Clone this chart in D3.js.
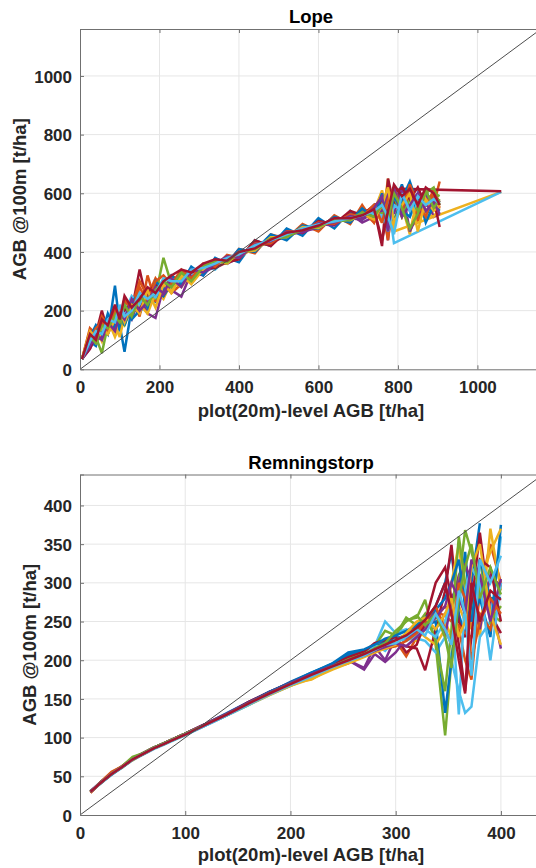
<!DOCTYPE html>
<html><head><meta charset="utf-8">
<script src="https://cdn.jsdelivr.net/npm/d3@7"></script>
<style>html,body{margin:0;padding:0;background:#fff;}svg{display:block;}</style>
</head><body>
<svg id="chart" width="536" height="868"></svg>
<script>
// ---------- DATA ----------
const colors = ['#0072BD','#D95319','#EDB120','#7E2F8E','#77AC30','#4DBEEE','#A2142F'];

// Lope panel
const lopeTitle = 'Lope';
const lopeXTicks = [0,200,400,600,800,1000];
const lopeYTicks = [0,200,400,600,800,1000];
const lopeX = [5,25,40,55,70,88,100,112,130,150,170,190,210,230,255,280,310,340,370,400,440,480,520,560,600,640,680,710,740,760,775,790,810,830,850,870,890,905,1060];
const lopeS0  = [35,95,80,150,120,285,150,60,210,190,245,230,280,265,320,300,345,350,380,365,440,420,480,455,515,480,540,510,560,520,600,560,630,540,600,520,580,560,null];
const lopeS1  = [35,130,110,100,150,130,200,160,240,180,320,230,300,260,290,345,330,370,360,410,395,460,445,495,470,525,495,560,500,560,470,580,520,600,500,600,560,640,null];
const lopeS2  = [35,120,140,95,170,110,150,190,180,230,200,270,240,300,280,330,345,345,385,380,420,430,462,468,495,500,512,520,545,500,650,470,null,null,null,null,null,null,605];
const lopeS3  = [35,70,110,140,120,180,150,200,170,250,190,175,280,270,248,330,320,365,360,380,430,425,470,465,495,490,530,500,520,590,440,620,560,610,540,590,520,530,null];
const lopeS4  = [35,90,110,55,150,140,190,170,220,200,250,240,270,300,310,315,350,345,375,395,412,438,462,470,492,505,520,515,540,530,560,510,580,470,540,560,600,590,null];
const lopeS5  = [35,110,130,150,160,200,175,230,190,240,260,250,300,280,320,310,350,340,380,390,425,440,460,480,488,508,518,522,550,520,580,430,null,null,null,null,null,null,605];
const lopeS6  = [35,70,120,200,130,180,150,210,200,340,220,270,250,300,290,335,330,360,365,392,418,435,452,478,492,500,525,535,550,420,650,560,615,null,null,null,null,null,607];
const lopeS7  = [35,100,90,160,140,200,130,210,170,200,260,280,250,290,330,310,340,365,370,400,405,460,440,490,480,515,500,545,520,570,610,500,580,640,560,610,550,575,null];
const lopeS8  = [35,140,120,180,150,200,160,230,210,300,250,310,270,320,300,340,335,375,360,390,415,438,463,472,490,502,512,540,500,560,440,610,530,590,520,560,610,550,null];
const lopeS9  = [35,120,90,130,170,150,110,180,200,220,190,260,280,270,310,300,345,360,368,388,410,442,458,476,488,506,515,520,540,610,520,490,560,460,600,530,520,550,null];
const lopeS10 = [35,85,100,110,150,140,180,160,200,210,240,250,255,290,300,320,330,350,378,388,415,445,455,470,482,508,515,510,535,540,600,530,620,470,530,560,545,null,null];
const lopeS11 = [35,100,130,140,120,190,170,150,210,230,250,250,380,290,300,330,340,360,372,392,420,438,462,472,495,505,508,532,525,530,545,590,520,580,540,600,620,560,null];
const lopeS12 = [35,105,120,130,155,170,200,190,250,220,260,245,290,295,330,325,340,350,380,395,418,448,462,478,500,500,520,528,530,525,470,560,540,520,580,570,560,575,null];
const lopeS13 = [35,90,110,150,170,150,190,200,230,200,260,290,270,300,290,330,345,345,365,375,440,420,470,465,505,495,540,525,560,570,530,600,620,580,620,560,580,485,null];
const lopeS14 = [35,110,150,120,190,140,210,150,230,260,210,300,270,320,290,350,320,380,360,410,400,455,448,488,480,520,505,548,515,600,480,590,540,520,600,500,560,540,null];
const lopeS15 = [35,100,140,160,130,210,180,240,200,280,230,300,320,290,340,310,360,350,390,380,428,430,470,470,500,496,528,520,560,500,580,620,540,630,560,520,600,570,null];
const lopeS16 = [35,130,110,140,120,170,200,160,220,190,270,210,290,260,320,290,340,370,360,400,405,450,450,485,482,512,508,530,510,560,620,500,560,600,470,580,540,560,null];
const lopeS17 = [35,80,120,100,160,130,190,170,240,200,230,280,260,310,280,340,330,360,385,380,425,436,468,466,498,500,522,515,550,590,470,620,520,560,600,540,570,530,null];
const lopeS18 = [35,110,90,150,140,180,160,220,180,250,220,270,300,280,330,300,350,370,365,398,410,446,452,476,486,510,510,535,520,560,510,600,550,480,530,610,550,580,null];
const lopeS19 = [35,95,130,120,170,160,220,180,200,260,240,260,310,300,300,340,345,360,380,392,422,440,460,480,494,504,516,524,540,560,520,460,600,540,590,560,580,565,null];
const lopeS20 = [35,120,100,170,150,220,170,250,210,240,280,260,300,320,340,330,360,375,370,400,412,442,465,474,490,515,515,525,545,440,540,630,590,615,560,620,600,560,null];
const lopeSeries = [lopeS0,lopeS1,lopeS2,lopeS3,lopeS4,lopeS5,lopeS6,lopeS7,lopeS8,lopeS9,lopeS10,lopeS11,lopeS12,lopeS13,lopeS14,lopeS15,lopeS16,lopeS17,lopeS18,lopeS19,lopeS20];

// Remningstorp panel
const remTitle = 'Remningstorp';
const remXTicks = [0,100,200,300,400];
const remYTicks = [0,50,100,150,200,250,300,350,400];
const remX = [10,20,30,40,50,60,70,80,90,100,120,140,160,180,200,220,240,255,270,280,290,300,310,320,328,338,347,353,360,366,372,380,390,400];
const remS0  = [30,42,52,62,71,79,86,92,98,104,118,132,146,158,172,184,195,208,212,218,222,228,232,240,250,270,300,340,260,230,300,377,null,null];
const remS1  = [29,43,56,63,73,80,87,92,98,104,116,129,143,156,168,178,190,196,206,212,222,225,205,230,245,255,270,258,240,200,175,290,350,300];
const remS2  = [30,42,54,61,72,79,86,92,99,105,117,130,144,157,170,175,190,198,207,213,218,222,230,225,240,260,250,230,270,250,300,230,370,290];
const remS3  = [31,43,54,63,72,80,87,93,99,105,118,131,146,159,171,182,193,200,190,218,200,230,226,238,250,240,260,270,310,325,290,250,280,215];
const remS4  = [30,42,53,63,75,80,86,92,98,104,117,130,144,158,169,181,191,199,206,214,226,230,252,255,278,220,103,200,300,368,340,300,260,250];
const remS5  = [30,41,52,61,71,78,85,91,97,103,116,129,142,155,167,178,192,202,210,218,250,235,240,228,225,210,230,200,160,132,140,230,250,360];
const remS6  = [30,42,53,62,72,79,86,93,99,105,118,131,145,158,170,181,193,204,210,215,220,223,218,215,187,240,290,349,250,230,270,365,260,235];
const remS7  = [30,43,53,62,72,80,87,93,99,105,117,130,145,159,170,183,196,206,212,216,224,228,232,236,245,250,132,200,270,340,250,280,230,375];
const remS8  = [29,42,54,62,72,79,86,92,98,104,117,130,143,157,169,181,190,202,208,214,219,226,230,245,255,262,258,250,245,235,230,260,240,300];
const remS9  = [30,42,53,62,71,79,86,92,98,104,117,129,142,155,167,179,191,199,210,216,220,224,235,240,230,220,240,300,350,280,240,300,340,370];
const remS10 = [30,42,53,62,72,79,86,92,99,105,118,131,145,158,170,182,193,200,188,208,198,210,228,236,245,265,230,280,300,325,300,240,310,295];
const remS11 = [30,42,54,63,74,80,87,93,99,105,117,130,144,157,170,181,193,203,210,218,238,232,255,245,260,225,160,240,360,300,250,330,250,270];
const remS12 = [30,42,53,62,72,79,86,92,98,104,116,129,142,156,168,180,190,200,205,220,212,228,225,232,240,230,250,280,130,290,320,300,200,300];
const remS13 = [30,42,53,62,72,79,86,93,99,105,118,130,146,159,171,183,194,204,211,222,226,230,210,220,250,300,320,280,220,160,230,330,320,250];
const remS14 = [30,42,53,62,72,79,86,92,98,104,117,131,145,159,171,184,196,210,214,220,228,232,238,245,255,265,280,300,330,270,250,330,280,280];
const remS15 = [29,43,55,63,72,80,87,93,99,104,117,130,144,157,169,181,192,200,205,212,215,218,225,235,250,270,240,220,300,280,200,250,280,260];
const remS16 = [30,42,53,62,72,79,86,92,98,104,117,130,143,156,167,176,188,196,204,210,215,220,235,250,255,240,260,280,230,250,320,350,260,220];
const remS17 = [30,42,53,62,72,80,87,93,99,105,118,131,145,158,170,182,193,200,206,212,217,222,218,230,240,255,270,300,280,260,330,310,250,305];
const remS18 = [30,42,53,62,73,80,87,93,99,105,117,130,144,157,169,180,192,201,208,215,222,238,250,258,245,260,230,190,280,320,350,280,320,285];
const remS19 = [30,42,53,62,72,79,86,92,98,104,116,129,143,156,168,179,191,199,206,213,220,222,230,240,232,260,240,220,290,260,180,330,300,335];
const remS20 = [30,42,53,62,72,79,86,92,98,104,117,130,144,157,169,181,192,200,208,214,220,226,232,242,252,270,300,260,200,157,300,250,290,278];
const remSeries = [remS0,remS1,remS2,remS3,remS4,remS5,remS6,remS7,remS8,remS9,remS10,remS11,remS12,remS13,remS14,remS15,remS16,remS17,remS18,remS19,remS20];

const xLabel = 'plot(20m)-level AGB [t/ha]';
const yLabel = 'AGB @100m [t/ha]';

// ---------- DRAW ----------
const svg = d3.select('#chart');
const FONT = '"Liberation Sans", Arial, Helvetica, sans-serif';

function panel(o) {
  const g = svg.append('g');
  const x = d3.scaleLinear().domain([0, o.lim]).range([o.left, o.left + o.w]);
  const y = d3.scaleLinear().domain([0, o.lim]).range([o.top + o.h, o.top]);
  const clipId = 'clip' + o.id;
  svg.append('clipPath').attr('id', clipId).append('rect')
    .attr('x', o.left).attr('y', o.top).attr('width', o.w).attr('height', o.h);

  // grid
  g.append('g').selectAll('line').data(o.xTicks.filter(d => d > 0)).join('line')
    .attr('x1', d => x(d)).attr('x2', d => x(d)).attr('y1', o.top).attr('y2', o.top + o.h)
    .attr('stroke', '#e6e6e6').attr('stroke-width', 1);
  g.append('g').selectAll('line').data(o.yTicks.filter(d => d > 0)).join('line')
    .attr('x1', o.left).attr('x2', o.left + o.w).attr('y1', d => y(d)).attr('y2', d => y(d))
    .attr('stroke', '#e6e6e6').attr('stroke-width', 1);

  // series
  const lg = g.append('g').attr('clip-path', `url(#${clipId})`);
  const line = d3.line().x(d => x(d[0])).y(d => y(d[1]));
  o.series.forEach((s, i) => {
    const pts = o.xs.map((xv, k) => [xv, s[k]]).filter(p => p[1] !== null);
    lg.append('path').attr('d', line(pts)).attr('fill', 'none')
      .attr('stroke', colors[i % colors.length]).attr('stroke-width', 2.5)
      .attr('stroke-linejoin', 'miter').attr('stroke-miterlimit', 3);
  });
  // 1:1 line
  lg.append('line').attr('x1', x(0)).attr('y1', y(0)).attr('x2', x(o.lim)).attr('y2', y(o.lim))
    .attr('stroke', '#4d4d4d').attr('stroke-width', 1);

  // axes
  const axc = '#707070';
  const ax = d3.axisBottom(x).tickValues(o.xTicks).tickSize(-4).tickPadding(11).tickFormat(d3.format('d'));
  const ay = d3.axisLeft(y).tickValues(o.yTicks).tickSize(-4).tickPadding(8).tickFormat(d3.format('d'));
  const gxa = g.append('g').attr('transform', `translate(0,${o.top + o.h})`).call(ax);
  const gya = g.append('g').attr('transform', `translate(${o.left},0)`).call(ay);
  const gxt = g.append('g').attr('transform', `translate(0,${o.top})`)
    .call(d3.axisTop(x).tickValues(o.xTicks).tickSize(-4).tickFormat(''));
  [gxa, gya, gxt].forEach(a => {
    a.select('.domain').attr('stroke', axc).attr('stroke-width', 1);
    a.selectAll('.tick line').attr('stroke', axc);
    a.selectAll('.tick text').attr('fill', '#262626').attr('font-family', FONT)
      .attr('font-size', 17).attr('font-weight', 'bold');
  });
  gxa.selectAll('.tick text').attr('dy', null).attr('y', 24).attr('dominant-baseline', 'auto');
  gya.selectAll('.tick text').attr('dy', '0.36em');
  gxa.selectAll('.tick').filter(d => d === 0).select('line').remove();
  gya.selectAll('.tick').filter(d => d === 0).select('line').remove();

  // title & labels
  g.append('text').attr('x', o.cx).attr('y', o.titleY).attr('text-anchor', 'middle')
    .attr('font-family', FONT).attr('font-size', 18.5).attr('font-weight', 'bold').attr('fill', '#000')
    .text(o.title);
  g.append('text').attr('x', o.cx).attr('y', o.xLabelY).attr('text-anchor', 'middle')
    .attr('font-family', FONT).attr('font-size', 18.5).attr('font-weight', 'bold').attr('fill', '#262626')
    .text(xLabel);
  g.append('text').attr('transform', `translate(${o.yLabelX},${o.top + o.h / 2}) rotate(-90)`)
    .attr('text-anchor', 'middle')
    .attr('font-family', FONT).attr('font-size', 18.5).attr('font-weight', 'bold').attr('fill', '#262626')
    .text(yLabel);
}

panel({id: 'a', left: 80, top: 29, w: 461, h: 340.3, lim: 1160, xs: lopeX, series: lopeSeries,
  xTicks: lopeXTicks, yTicks: lopeYTicks, title: lopeTitle, cx: 311, titleY: 23, xLabelY: 417, yLabelX: 26});
panel({id: 'b', left: 80, top: 474.5, w: 463, h: 340.5, lim: 440, xs: remX, series: remSeries,
  xTicks: remXTicks, yTicks: remYTicks, title: remTitle, cx: 311, titleY: 469, xLabelY: 861, yLabelX: 36});
</script>
</body></html>
